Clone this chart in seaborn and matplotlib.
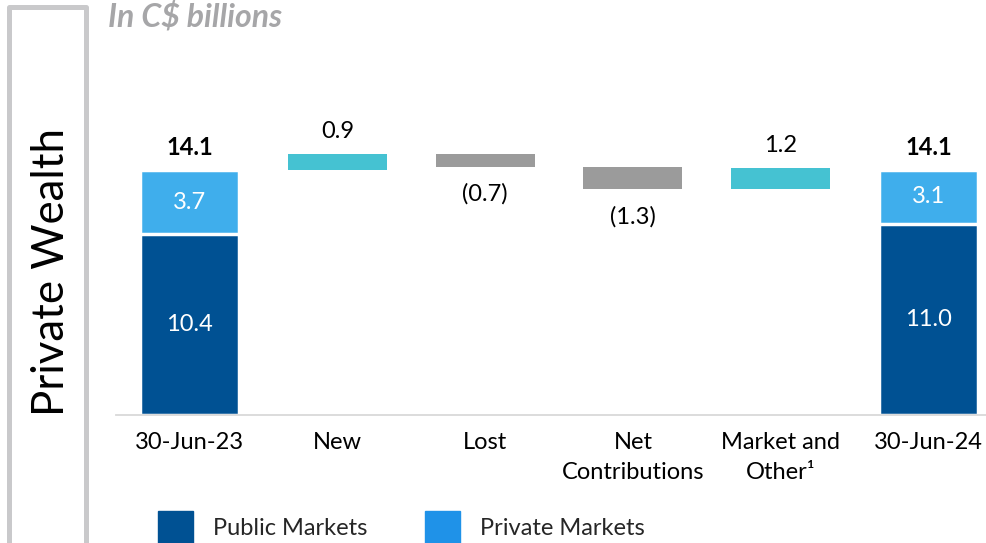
import pandas as pd
import matplotlib.pyplot as plt
import matplotlib.patches as mpatches
import seaborn as sns

# Data (C$ billions)
categories = ["30-Jun-23", "New", "Lost", "Net\nContributions", "Market and\nOther¹", "30-Jun-24"]
end_categories = ["30-Jun-23", "30-Jun-24"]
public_markets = [10.4, 11.0]
private_markets = [3.7, 3.1]
totals = [14.1, 14.1]
change_categories = ["New", "Lost", "Net\nContributions", "Market and\nOther¹"]
changes = [0.9, -0.7, -1.3, 1.2]
change_labels = ["0.9", "(0.7)", "(1.3)", "1.2"]

# Colours
dark_blue = "#005193"
light_blue = "#3faeec"
legend_light = "#1f92e8"
cyan = "#45c2d2"
grey = "#9b9b9b"

sns.set_theme(style="white")
plt.rcParams["font.family"] = ["Lato", "DejaVu Sans"]

fig = plt.figure(figsize=(9.86, 5.43), dpi=100)
ax = fig.add_axes([116 / 986, 1 - 415 / 543, 870 / 986, 315 / 543])

# ==========================
# Stacked start / end bars
# ==========================
df_end = pd.DataFrame({"category": end_categories, "total": totals, "public": public_markets})
bar_w = 0.67
sns.barplot(data=df_end, x="category", y="total", order=categories, color=light_blue,
            saturation=1, width=bar_w, edgecolor="white", linewidth=2.5, ax=ax)
sns.barplot(data=df_end, x="category", y="public", order=categories, color=dark_blue,
            saturation=1, width=bar_w, edgecolor="white", linewidth=2.5, ax=ax)

for cat, pub, priv, tot in zip(end_categories, public_markets, private_markets, totals):
    i = categories.index(cat)
    ax.text(i, pub / 2, f"{pub:.1f}", ha="center", va="center", color="white", fontsize=17)
    ax.text(i, pub + priv / 2, f"{priv:.1f}", ha="center", va="center", color="white", fontsize=17)
    ax.annotate(f"{tot:.1f}", (i, tot), xytext=(0, 8), textcoords="offset points",
                ha="center", va="bottom", fontsize=17, fontweight="bold", color="black")

# ==========================
# Floating change bars
# ==========================
running = totals[0]
for cat, ch, lab in zip(change_categories, changes, change_labels):
    i = categories.index(cat)
    bottom = running if ch > 0 else running + ch
    ax.bar(i, abs(ch), bottom=bottom, width=bar_w, color=cyan if ch > 0 else grey, linewidth=0)
    if ch > 0:
        ax.annotate(lab, (i, bottom + abs(ch)), xytext=(0, 9), textcoords="offset points",
                    ha="center", va="bottom", fontsize=17, color="black")
    else:
        ax.annotate(lab, (i, bottom), xytext=(0, -12), textcoords="offset points",
                    ha="center", va="top", fontsize=17, color="black")
    running += ch

# ==========================
# Axes styling
# ==========================
ax.set_xlim(-0.5, 5.39)
ax.set_ylim(0, 18.13)
ax.set_xlabel("")
ax.set_ylabel("")
ax.set_yticks([])
ax.set_xticks(range(len(categories)))
ax.set_xticklabels(categories, linespacing=1.55)
ax.tick_params(axis="x", length=0, pad=12, labelsize=17, labelcolor="black")
for side in ["top", "left", "right"]:
    ax.spines[side].set_visible(False)
ax.spines["bottom"].set_color("#d9d9d9")
ax.spines["bottom"].set_linewidth(1.3)

# Side box with label
box = mpatches.Rectangle((8.5 / 986, -0.1), 77 / 986, 1.1 - 7.5 / 543, transform=fig.transFigure,
                         fill=False, edgecolor="#c9c9cb", linewidth=3.6, joinstyle="round",
                         clip_on=False)
fig.patches.append(box)
fig.text(52 / 986, 1 - 272 / 543, "Private Wealth", rotation=90, ha="center", va="center",
         fontsize=31.5, color="black")

# Title
fig.text(108 / 986, 1 - 27 / 543, r"In C\$ billions", fontsize=23, fontweight="bold",
         fontstyle="italic", color="#a6a6a8", va="baseline", ha="left")

# Legend
handles = [mpatches.Patch(color=dark_blue, label="Public Markets"),
           mpatches.Patch(color=legend_light, label="Private Markets")]
fig.legend(handles=handles, loc="upper left", bbox_to_anchor=(158 / 986, 1 - 511 / 543),
           ncol=2, frameon=False, fontsize=17, handlelength=1.5, handleheight=1.75,
           handletextpad=0.85, columnspacing=2.4, borderpad=0, borderaxespad=0)

fig.savefig("out.png", dpi=100)
